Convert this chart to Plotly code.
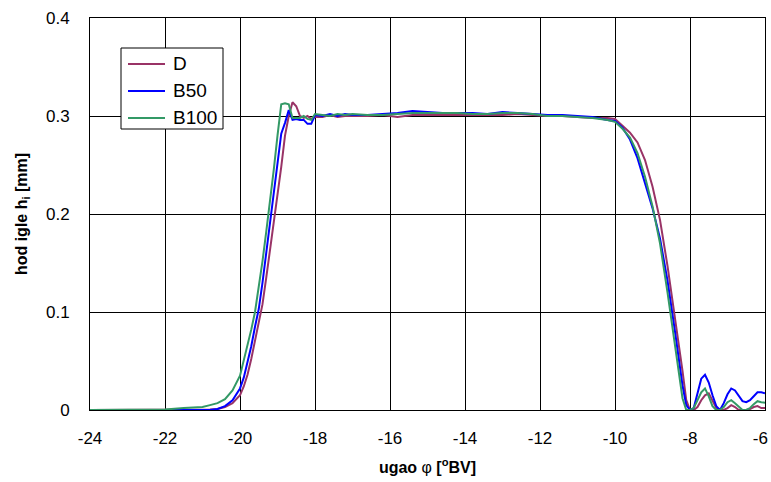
import plotly.graph_objects as go

x_deg = [-24, -23.5, -23, -22.5, -22, -21.5, -21, -20.8, -20.6, -20.4, -20.2,
         -20.0, -19.9, -19.8, -19.7, -19.6, -19.5, -19.4, -19.3, -19.2, -19.1,
         -19.0, -18.9, -18.8, -18.7, -18.6, -18.5, -18.4, -18.3, -18.2, -18.1,
         -18.0, -17.8, -17.6, -17.4, -17.2, -17.0, -16.6, -16.2, -15.8, -15.4,
         -15.0, -14.6, -14.2, -13.8, -13.4, -13.0, -12.6, -12.2, -11.8, -11.4,
         -11.0, -10.6, -10.2, -10.0, -9.8, -9.6, -9.4, -9.2, -9.0, -8.8,
         -8.6, -8.4, -8.2, -8.1, -8.0, -7.9, -7.8, -7.7, -7.6, -7.5,
         -7.4, -7.3, -7.2, -7.1, -7.0, -6.9, -6.8, -6.7, -6.6, -6.5,
         -6.4, -6.3, -6.2, -6.1, -6.0]

h_D = [0.0, 0.0, 0.0, 0.0, 0.0, 0.0, 0.0, 0.0005, 0.001, 0.003, 0.007,
       0.015, 0.024, 0.036, 0.052, 0.070, 0.088, 0.108, 0.135, 0.162, 0.190,
       0.218, 0.248, 0.280, 0.300, 0.314, 0.310, 0.300, 0.298, 0.300, 0.297,
       0.299, 0.299, 0.301, 0.299, 0.300, 0.300, 0.300, 0.301, 0.299, 0.301,
       0.301, 0.301, 0.301, 0.301, 0.301, 0.301, 0.302, 0.301, 0.300, 0.300,
       0.299, 0.298, 0.298, 0.297, 0.290, 0.283, 0.273, 0.255, 0.228, 0.194,
       0.147, 0.095, 0.040, 0.010, 0.0, 0.0, 0.003, 0.010, 0.015, 0.017,
       0.010, 0.002, 0.0, 0.0, 0.002, 0.005, 0.003, 0.0, 0.0, 0.0,
       0.001, 0.003, 0.004, 0.002, 0.002]

h_B50 = [0.0, 0.0, 0.0, 0.0, 0.0, 0.0, 0.0, 0.0, 0.001, 0.004, 0.010,
         0.022, 0.033, 0.048, 0.065, 0.085, 0.103, 0.130, 0.160, 0.190, 0.220,
         0.250, 0.282, 0.293, 0.306, 0.296, 0.297, 0.296, 0.296, 0.292, 0.292,
         0.301, 0.300, 0.302, 0.300, 0.302, 0.301, 0.301, 0.302, 0.303, 0.305,
         0.304, 0.303, 0.303, 0.303, 0.302, 0.304, 0.303, 0.302, 0.301, 0.301,
         0.300, 0.299, 0.296, 0.295, 0.288, 0.276, 0.257, 0.232, 0.206, 0.175,
         0.132, 0.080, 0.025, 0.005, 0.0, 0.002, 0.018, 0.032, 0.036, 0.028,
         0.015, 0.004, 0.0, 0.007, 0.016, 0.022, 0.020, 0.014, 0.009, 0.008,
         0.010, 0.014, 0.018, 0.018, 0.017]

h_B100 = [0.0, 0.0, 0.0, 0.0005, 0.0005, 0.002, 0.003, 0.005, 0.007, 0.011, 0.020,
          0.035, 0.050, 0.065, 0.082, 0.100, 0.125, 0.152, 0.182, 0.212, 0.245,
          0.280, 0.312, 0.313, 0.312, 0.298, 0.298, 0.298, 0.300, 0.297, 0.296,
          0.302, 0.301, 0.300, 0.302, 0.301, 0.302, 0.301, 0.301, 0.302, 0.303,
          0.303, 0.303, 0.303, 0.302, 0.302, 0.303, 0.303, 0.302, 0.300, 0.300,
          0.299, 0.298, 0.296, 0.294, 0.287, 0.278, 0.262, 0.238, 0.208, 0.170,
          0.120, 0.065, 0.012, 0.0, 0.0, 0.002, 0.010, 0.018, 0.022, 0.014,
          0.004, 0.0, 0.0, 0.003, 0.008, 0.010, 0.007, 0.003, 0.0, 0.0,
          0.002, 0.006, 0.009, 0.008, 0.0075]

series_names = ["D", "B50", "B100"]
series_values = [h_D, h_B50, h_B100]
series_colors = ["#993366", "#0000FF", "#339966"]

x_ticks = [-24, -22, -20, -18, -16, -14, -12, -10, -8, -6]
x_labels = ["-24", "-22", "-20", "-18", "-16", "-14", "-12", "-10", "-8", "-6\u00a0\u00a0"]
y_ticks = [0, 0.1, 0.2, 0.3, 0.4]
y_labels = ["0", "0.1", "0.2", "0.3", "0.4"]

fig = go.Figure()
for name, ys, col in zip(series_names, series_values, series_colors):
    fig.add_trace(go.Scatter(x=x_deg, y=ys, mode="lines", name=name,
                             line=dict(color=col, width=2), showlegend=False))

# legend box drawn in paper coordinates (plot area: 90..765 px wide, 18..410 px tall)
def px(xp):
    return (xp - 90) / 675.0

def py(yp):
    return (410.0 - yp) / 392.0

shapes = [dict(type="rect", xref="paper", yref="paper", x0=px(121), x1=px(223),
               y0=py(129), y1=py(48), line=dict(color="black", width=1),
               fillcolor="white", layer="above")]
annotations = []
for i, (name, col) in enumerate(zip(series_names, series_colors)):
    yy = py(64 + 27 * i)
    shapes.append(dict(type="line", xref="paper", yref="paper", x0=px(128), x1=px(165),
                       y0=yy, y1=yy, line=dict(color=col, width=2), layer="above"))
    annotations.append(dict(xref="paper", yref="paper", x=px(171), y=yy, text=name,
                            showarrow=False, xanchor="left", yanchor="middle",
                            font=dict(size=19, color="black")))

font_family = "Liberation Sans, Arial, sans-serif"
fig.update_layout(
    width=771, height=482,
    margin=dict(l=90, r=6, t=18, b=72),
    paper_bgcolor="white", plot_bgcolor="white",
    font=dict(family=font_family, size=17, color="black"),
    showlegend=False,
    shapes=shapes,
    annotations=annotations,
    xaxis=dict(range=[-24, -6], tickvals=x_ticks, ticktext=x_labels, showgrid=True,
               gridcolor="black", gridwidth=1, showline=True, linecolor="black",
               linewidth=1, mirror=True, ticks="", ticklabelstandoff=13, zeroline=False,
               automargin=False, ticklabeloverflow="allow",
               title=dict(text="<b>ugao </b>φ<b> [<sup>o</sup>BV]</b>", font=dict(size=16),
                          standoff=14)),
    yaxis=dict(range=[0, 0.4], tickvals=y_ticks, ticktext=y_labels, showgrid=True,
               gridcolor="black", gridwidth=1, showline=True, linecolor="black",
               linewidth=1, mirror=True, ticks="", ticklabelstandoff=16, zeroline=False,
               automargin=False,
               title=dict(text="<b>hod igle h<sub>i</sub> [mm]</b>", font=dict(size=16),
                          standoff=14)),
)

# remove the page's default body margin and scrollbars so the figure fills the window
fig.write_html(
    "out.html",
    config={"displayModeBar": False},
    post_script=("document.body.style.margin='0';"
                 "document.body.style.overflow='hidden';"
                 "document.documentElement.style.overflow='hidden';"),
)
